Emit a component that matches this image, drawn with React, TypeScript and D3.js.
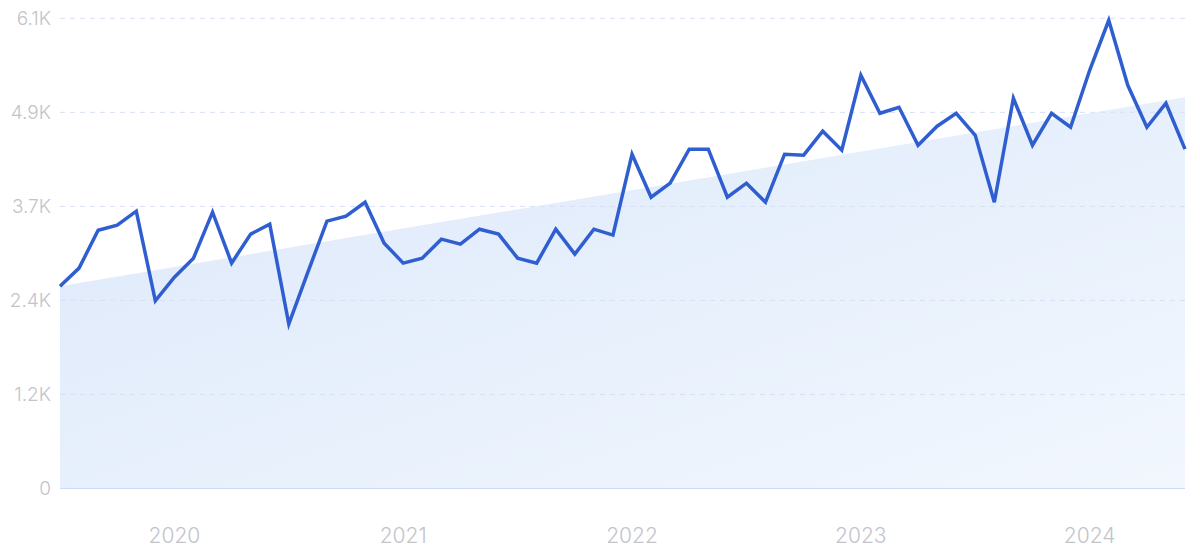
import React from "react";
import * as d3 from "d3";

// Monthly categories: Jul 2019 .. Jun 2024
const startMonth = new Date(2019, 6, 1);
const endMonth = new Date(2024, 6, 1);
const months: Date[] = d3.timeMonth.range(startMonth, endMonth);

const values: number[] = [
  2625, 2859, 3351, 3416, 3598, 2435, 2742, 2988, 3585, 2924, 3300, 3429,
  2133, 2807, 3468, 3533, 3714, 3183, 2924, 2988, 3235, 3170, 3364, 3300,
  2988, 2924, 3364, 3040, 3364, 3287, 4337, 3779, 3961, 4402, 4402, 3779,
  3961, 3714, 4337, 4324, 4635, 4389, 5361, 4868, 4946, 4453, 4700, 4868,
  4583, 3714, 5063, 4453, 4868, 4687, 5426, 6074, 5231, 4687, 4998, 4402,
];

const trendValues: number[] = [2625, 5076];

const yTicks: number[] = [0, 1220, 2440, 3660, 4880, 6100];
const yTickLabels: string[] = ["0", "1.2K", "2.4K", "3.7K", "4.9K", "6.1K"];
const yearTicks: string[] = ["2020", "2021", "2022", "2023", "2024"];

const W = 1200;
const H = 551;
const left = 60;
const right = 1185;
const top = 18.3;
const bottom = 488.5;

export default function App() {
  const x = d3
    .scaleLinear()
    .domain([0, months.length - 1])
    .range([left, right]);
  const y = d3.scaleLinear().domain([0, 6100]).range([bottom, top]);

  const line = d3
    .line<number>()
    .x((_, i) => x(i))
    .y((d) => y(d));

  const trendX = d3.scaleLinear().domain([0, 1]).range([left, right]);
  const area = d3
    .area<number>()
    .x((_, i) => trendX(i))
    .y0(y(0))
    .y1((d) => y(d));

  const yearIndex = (yr: string) =>
    months.findIndex((m) => m.getFullYear() === +yr && m.getMonth() === 0);

  return (
    <svg
      width={W}
      height={H}
      style={{ position: "absolute", left: 0, top: 0, background: "#fff" }}
      fontFamily="Inter, 'Open Sans', sans-serif"
    >
      <defs>
        <linearGradient id="areaGrad" x1="0" y1="0" x2="1" y2="1">
          <stop offset="0%" stopColor="#dce8fa" />
          <stop offset="100%" stopColor="#f2f7fe" />
        </linearGradient>
      </defs>
      <path d={area(trendValues) || ""} fill="url(#areaGrad)" />
      {yTicks.map((t, i) =>
        t === 0 ? null : (
          <line
            key={"g" + i}
            x1={left}
            x2={right}
            y1={y(t)}
            y2={y(t)}
            stroke="#d6e0f3"
            strokeWidth={1}
            strokeDasharray="5,5"
          />
        )
      )}
      <line
        x1={left}
        x2={right}
        y1={y(0)}
        y2={y(0)}
        stroke="#cddcf5"
        strokeWidth={1}
      />
      {yTicks.map((t, i) => (
        <text
          key={"yl" + i}
          x={51}
          y={y(t)}
          dy="0.36em"
          textAnchor="end"
          fontSize={19}
          fontWeight={300}
          fill="#c2c4ca"
        >
          {yTickLabels[i]}
        </text>
      ))}
      {yearTicks.map((yr) => (
        <text
          key={yr}
          x={x(yearIndex(yr))}
          y={543}
          textAnchor="middle"
          fontSize={21}
          fontWeight={300}
          fill="#c2c4ca"
        >
          {yr}
        </text>
      ))}
      <path
        d={line(values) || ""}
        fill="none"
        stroke="#2f5ed1"
        strokeWidth={3.5}
        strokeLinejoin="miter"
        strokeLinecap="butt"
      />
    </svg>
  );
}
